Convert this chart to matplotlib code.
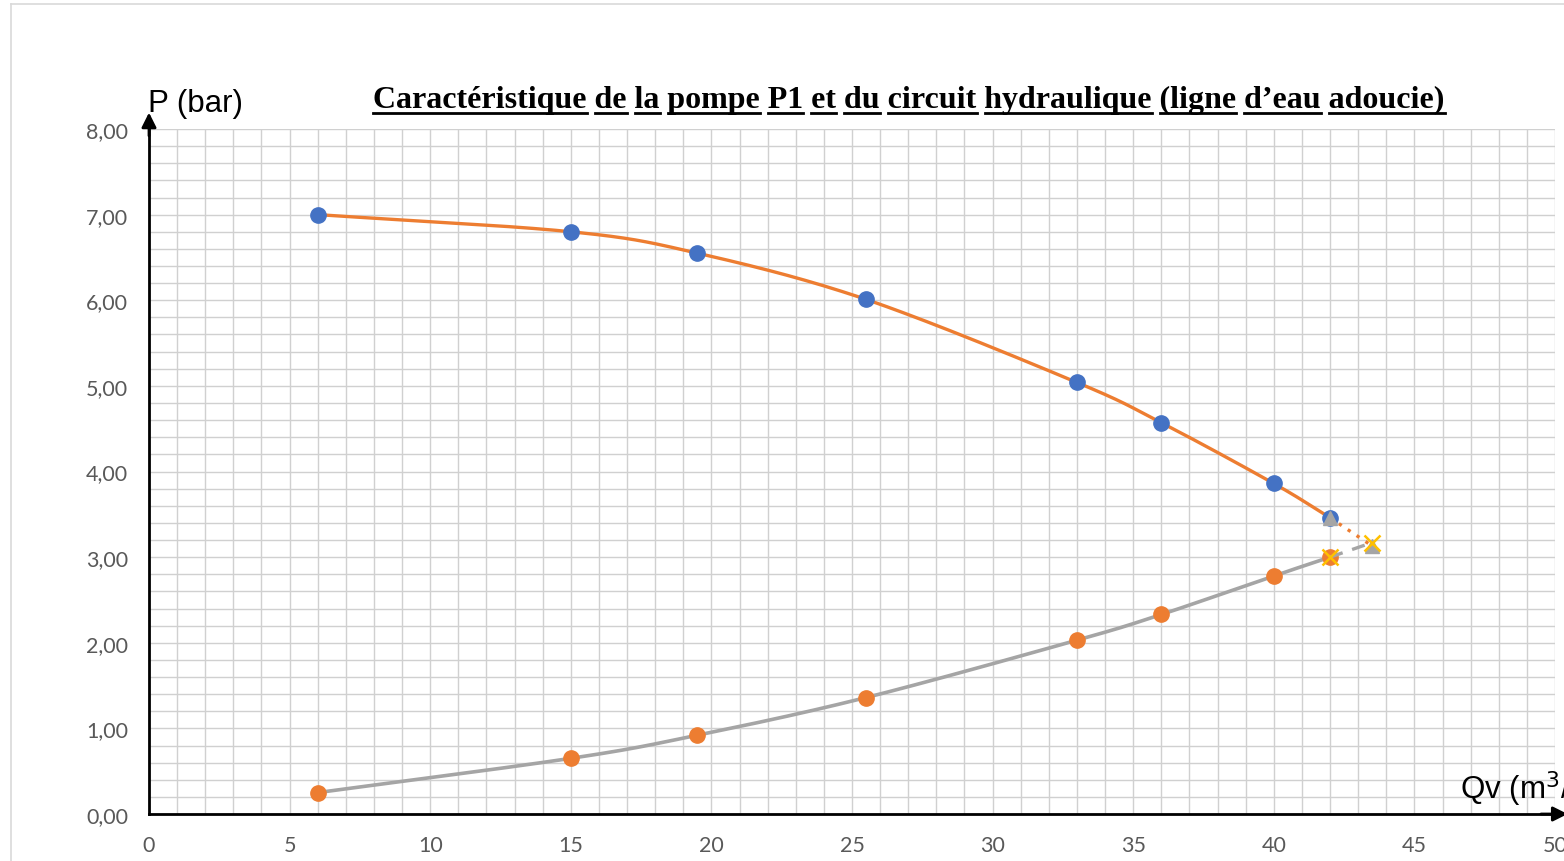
import matplotlib
matplotlib.use("Agg")
import matplotlib.pyplot as plt
from matplotlib.lines import Line2D
import numpy as np

# Data
qv_points = [6, 15, 19.5, 25.5, 33, 36, 40, 42]
pump_p = [7.00, 6.80, 6.55, 6.01, 5.04, 4.57, 3.86, 3.46]
circuit_p = [0.25, 0.65, 0.92, 1.36, 2.03, 2.33, 2.78, 3.00]

# extrapolated ends (operating point)
qv_extra = [42, 43.5]
pump_extra = [3.46, 3.13]
circuit_extra = [3.00, 3.17]

x_ticks = [0, 5, 10, 15, 20, 25, 30, 35, 40, 45, 50]
y_ticks = [0, 1, 2, 3, 4, 5, 6, 7, 8]

title_words = ["Caractéristique", "de", "la", "pompe", "P1", "et", "du",
               "circuit", "hydraulique", "(ligne", "d\u2019eau", "adoucie)"]

ORANGE = "#ED7D31"
BLUE = "#4472C4"
GRAY = "#A5A5A5"
YELLOW = "#FFC000"


def smooth(x, y, n=40):
    # Catmull-Rom spline through the points, like Excel's smoothed line
    x = np.asarray(x, float)
    y = np.asarray(y, float)
    px = np.concatenate([[2 * x[0] - x[1]], x, [2 * x[-1] - x[-2]]])
    py = np.concatenate([[2 * y[0] - y[1]], y, [2 * y[-1] - y[-2]]])
    t = np.linspace(0, 1, n)
    xs, ys = [], []
    for i in range(1, len(px) - 2):
        for p, out in ((px, xs), (py, ys)):
            p0, p1, p2, p3 = p[i - 1], p[i], p[i + 1], p[i + 2]
            out.append(0.5 * ((2 * p1) + (-p0 + p2) * t
                              + (2 * p0 - 5 * p1 + 4 * p2 - p3) * t ** 2
                              + (-p0 + 3 * p1 - 3 * p2 + p3) * t ** 3))
    return np.concatenate(xs), np.concatenate(ys)


W, H = 1564, 862
fig = plt.figure(figsize=(W / 100, H / 100), dpi=100)
ax = fig.add_axes([149 / W, 1 - 815 / H, (1555 - 149) / W, (815 - 130) / H])

# outer chart border
fig.add_artist(Line2D([11 / W, 11 / W], [0, 1 - 5 / H], color="#D9D9D9", lw=1.2))
fig.add_artist(Line2D([11 / W, 1], [1 - 5 / H, 1 - 5 / H], color="#D9D9D9", lw=1.2))

ax.set_xlim(0, 50)
ax.set_ylim(0, 8)
ax.set_xticks(x_ticks)
ax.set_yticks(y_ticks)
ax.set_xticks(np.arange(0, 51, 1), minor=True)
ax.set_yticks(np.arange(0, 8.01, 0.2), minor=True)
ax.set_yticklabels(["%d,00" % v for v in y_ticks])
ax.grid(True, which="both", color="#D0D0D0", lw=1.0)
ax.set_axisbelow(True)
ax.tick_params(which="both", length=0)
ax.tick_params(axis="x", pad=15, labelsize=15.5, labelcolor="#595959")
ax.tick_params(axis="y", pad=15, labelsize=15.5, labelcolor="#595959")
for lab in ax.get_xticklabels() + ax.get_yticklabels():
    lab.set_family("Lato")

for side in ("top", "right"):
    ax.spines[side].set_visible(False)
for side in ("left", "bottom"):
    ax.spines[side].set_linewidth(2)
    ax.spines[side].set_color("black")

# axis arrows
ax.annotate("", xy=(0, 1.024), xytext=(0, 0.99), xycoords="axes fraction",
            arrowprops=dict(arrowstyle="-|>", color="black", lw=2,
                            mutation_scale=22, shrinkA=0, shrinkB=0),
            annotation_clip=False)
ax.annotate("", xy=(1.009, 0), xytext=(0.99, 0), xycoords="axes fraction",
            arrowprops=dict(arrowstyle="-|>", color="black", lw=2,
                            mutation_scale=22, shrinkA=0, shrinkB=0),
            annotation_clip=False)

# curves
sx, sy = smooth(qv_points, pump_p)
ax.plot(sx, sy, color=ORANGE, lw=2.4, zorder=3)
sx, sy = smooth(qv_points, circuit_p)
ax.plot(sx, sy, color=GRAY, lw=2.6, zorder=3)
ax.plot(qv_points, pump_p, "o", color=BLUE, ms=11, zorder=4)
ax.plot(qv_points, circuit_p, "o", color=ORANGE, ms=11, zorder=4)

# extrapolation to the operating point
ax.plot(qv_extra, pump_extra, ls=(0, (1, 2.2)), color=ORANGE, lw=2.4,
        marker="^", ms=10, mfc=GRAY, mec=GRAY, zorder=5, clip_on=False)
ax.plot(qv_extra, circuit_extra, ls=(0, (4, 3)), color=GRAY, lw=2.4,
        marker="x", ms=11, mec=YELLOW, mew=1.8, zorder=6, clip_on=False)

# axis labels
fig.text(148 / W, 1 - 112 / H, "P (bar)", fontsize=22.5, family="Liberation Sans",
         va="baseline", ha="left")
fig.text(1460 / W, 1 - 799 / H, "Qv (m$^3$/h)", fontsize=22.5, family="Liberation Sans",
         va="baseline", ha="left")

# title with underlined words
tfont = dict(fontsize=23, family="Liberation Serif", weight="bold")
renderer = fig.canvas.get_renderer()


def text_width(s):
    t = fig.text(0, 0, s, **tfont)
    w = t.get_window_extent(renderer).width
    t.remove()
    return w


full = " ".join(title_words)
full_w = text_width(full)
left_px = 909 - full_w / 2
base_px = 108
fig.text(left_px / W, 1 - base_px / H, full, va="baseline", ha="left", **tfont)
for i, word in enumerate(title_words):
    end = left_px + text_width(" ".join(title_words[:i + 1]))
    start = end - text_width(word)
    yl = 1 - (base_px + 6) / H
    fig.add_artist(Line2D([start / W, end / W], [yl, yl], color="black", lw=2))

fig.savefig("out.png", dpi=100)
